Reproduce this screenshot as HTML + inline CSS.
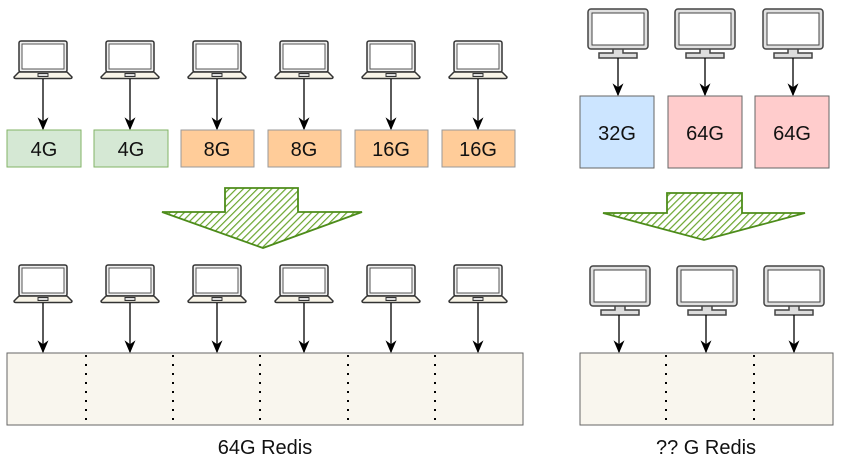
<!DOCTYPE html>
<html><head><meta charset="utf-8"><style>body{margin:0;background:#fff}svg{display:block}</style></head>
<body>
<svg width="846" height="465" viewBox="0 0 846 465" xmlns="http://www.w3.org/2000/svg" font-family="Liberation Sans, sans-serif">
<defs>
<symbol id="lap" viewBox="0 0 60 40" width="60" height="40">
<rect x="6" y="1" width="48" height="31" rx="2" fill="#f0f0f0" stroke="#333" stroke-width="1.5"/>
<rect x="9" y="4" width="42" height="25" fill="#fff" stroke="#555" stroke-width="1"/>
<path d="M6 32 L54 32 L59 37 Q59 38.5 57 38.5 L3 38.5 Q1 38.5 1 37 Z" fill="#f8f4e8" stroke="#333" stroke-width="1.5"/>
<rect x="25" y="33.5" width="10" height="3" fill="#ddd" stroke="#333" stroke-width="1"/>
</symbol>
<symbol id="mon" viewBox="0 0 62 54" width="62" height="54">
<path d="M26 40 L26 45 L12 45 L12 50 L50 50 L50 45 L36 45 L36 40" fill="#ddd" stroke="#444" stroke-width="1.5"/>
<rect x="1" y="1" width="60" height="40" rx="3" fill="#e0e0e0" stroke="#444" stroke-width="1.5"/>
<rect x="5" y="5" width="52" height="32" fill="#fff" stroke="#444" stroke-width="1"/>
</symbol>
<marker id="ah" viewBox="0 0 10 10" refX="9" refY="5" markerWidth="13" markerHeight="11" orient="auto" markerUnits="userSpaceOnUse" preserveAspectRatio="none"><path d="M0 0 L10 5 L0 10 L3 5 Z" fill="#000"/></marker>
<pattern id="hatch" width="5" height="5" patternUnits="userSpaceOnUse" patternTransform="rotate(45)"><rect width="5" height="5" fill="#fff"/><line x1="0" y1="0" x2="0" y2="5" stroke="#6aa52e" stroke-width="2.4"/></pattern>
</defs>
<g stroke="#000" stroke-width="1.3" fill="none">
<use href="#lap" x="13" y="40"/><use href="#lap" x="100" y="40"/><use href="#lap" x="187" y="40"/><use href="#lap" x="274" y="40"/><use href="#lap" x="361" y="40"/><use href="#lap" x="448" y="40"/>
<line x1="43" y1="79" x2="43" y2="129" marker-end="url(#ah)"/>
<line x1="130" y1="79" x2="130" y2="129" marker-end="url(#ah)"/>
<line x1="217" y1="79" x2="217" y2="129" marker-end="url(#ah)"/>
<line x1="304" y1="79" x2="304" y2="129" marker-end="url(#ah)"/>
<line x1="391" y1="79" x2="391" y2="129" marker-end="url(#ah)"/>
<line x1="478" y1="79" x2="478" y2="129" marker-end="url(#ah)"/>
<use href="#lap" x="13" y="264"/><use href="#lap" x="100" y="264"/><use href="#lap" x="187" y="264"/><use href="#lap" x="274" y="264"/><use href="#lap" x="361" y="264"/><use href="#lap" x="448" y="264"/>
<line x1="43" y1="303" x2="43" y2="352" marker-end="url(#ah)"/>
<line x1="130" y1="303" x2="130" y2="352" marker-end="url(#ah)"/>
<line x1="217" y1="303" x2="217" y2="352" marker-end="url(#ah)"/>
<line x1="304" y1="303" x2="304" y2="352" marker-end="url(#ah)"/>
<line x1="391" y1="303" x2="391" y2="352" marker-end="url(#ah)"/>
<line x1="478" y1="303" x2="478" y2="352" marker-end="url(#ah)"/>
<use href="#mon" x="587" y="8"/><use href="#mon" x="674" y="8"/><use href="#mon" x="762" y="8"/>
<line x1="618" y1="58" x2="618" y2="95" marker-end="url(#ah)"/>
<line x1="705" y1="58" x2="705" y2="95" marker-end="url(#ah)"/>
<line x1="793" y1="58" x2="793" y2="95" marker-end="url(#ah)"/>
<use href="#mon" x="589" y="265"/><use href="#mon" x="676" y="265"/><use href="#mon" x="763" y="265"/>
<line x1="619" y1="315" x2="619" y2="352" marker-end="url(#ah)"/>
<line x1="706" y1="315" x2="706" y2="352" marker-end="url(#ah)"/>
<line x1="794" y1="315" x2="794" y2="352" marker-end="url(#ah)"/>
</g>
<g font-size="20" text-anchor="middle" fill="#111">
<rect x="7" y="130" width="74" height="37" fill="#d5e8d4" stroke="#82b366"/><text x="44" y="156">4G</text>
<rect x="94" y="130" width="74" height="37" fill="#d5e8d4" stroke="#82b366"/><text x="131" y="156">4G</text>
<rect x="181" y="130" width="73" height="37" fill="#ffcc99" stroke="#999"/><text x="217" y="156">8G</text>
<rect x="268" y="130" width="73" height="37" fill="#ffcc99" stroke="#999"/><text x="304" y="156">8G</text>
<rect x="355" y="130" width="73" height="37" fill="#ffcc99" stroke="#999"/><text x="391" y="156">16G</text>
<rect x="442" y="130" width="73" height="37" fill="#ffcc99" stroke="#999"/><text x="478" y="156">16G</text>
<rect x="580" y="96" width="74" height="72" fill="#cce5ff" stroke="#666"/><text x="617" y="140">32G</text>
<rect x="668" y="96" width="74" height="72" fill="#ffcccc" stroke="#666"/><text x="705" y="140">64G</text>
<rect x="755" y="96" width="74" height="72" fill="#ffcccc" stroke="#666"/><text x="792" y="140">64G</text>
</g>
<path d="M225 188 L298 188 L298 212 L362 212 L263 248 L162 212 L225 212 Z" fill="url(#hatch)" stroke="#4d8c1a" stroke-width="1.8"/>
<path d="M667 193 L742 193 L742 213 L805 213 L704 240 L603 213 L667 213 Z" fill="url(#hatch)" stroke="#4d8c1a" stroke-width="1.8"/>
<rect x="7" y="353" width="516" height="72" fill="#f9f6ee" stroke="#666"/>
<rect x="580" y="353" width="253" height="72" fill="#f9f6ee" stroke="#666"/>
<g stroke="#000" stroke-width="2" stroke-dasharray="2 7">
<path d="M86 355 V425 M173 355 V425 M260 355 V425 M348 355 V425 M435 355 V425 M666 355 V425 M754 355 V425"/>
</g>
<text x="265" y="454" font-size="20" text-anchor="middle" fill="#111">64G Redis</text>
<text x="706" y="454" font-size="20" text-anchor="middle" fill="#111">?? G Redis</text>
</svg>
</body></html>
